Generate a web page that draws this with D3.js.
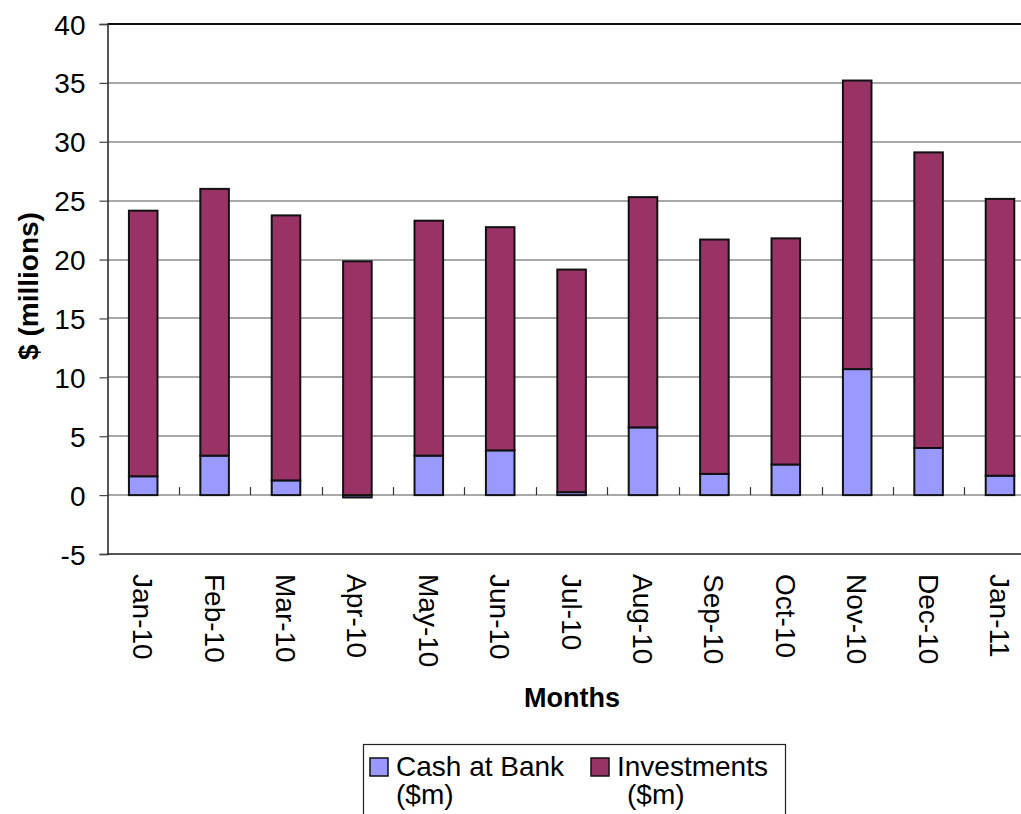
<!DOCTYPE html>
<html>
<head>
<meta charset="utf-8">
<script src="https://cdn.jsdelivr.net/npm/d3@7"></script>
<style>
  body { margin: 0; background: #fff; }
  svg { display: block; font-family: "Liberation Sans", Arial, sans-serif; }
</style>
</head>
<body>
<svg id="chart" width="1021" height="814"></svg>
<script>
const months = ["Jan-10", "Feb-10", "Mar-10", "Apr-10", "May-10", "Jun-10", "Jul-10",
  "Aug-10", "Sep-10", "Oct-10", "Nov-10", "Dec-10", "Jan-11"];
const cash = [1.6, 3.35, 1.25, -0.2, 3.35, 3.8, 0.25, 5.75, 1.8, 2.6, 10.7, 4.0, 1.65];
const investments = [22.55, 22.65, 22.5, 19.85, 19.95, 18.95, 18.9, 19.55, 19.9, 19.2, 24.5, 25.1, 23.5];
const yTicks = [40, 35, 30, 25, 20, 15, 10, 5, 0, -5];
const seriesNames = ["Cash at Bank ($m)", "Investments ($m)"];
const colors = ["#9999ff", "#993366"];

const margin = {left: 107.5, top: 24, bottom: 554};
const step = 71.4;
const right = margin.left + step * months.length;

const svg = d3.select("#chart");

let x = d3.scaleBand()
  .domain(months)
  .range([margin.left, right])
  .paddingInner(0.6)
  .paddingOuter(0.3);
let y = d3.scaleLinear()
  .domain([-5, 40])
  .range([margin.bottom, margin.top]);

// gridlines
svg.append("g")
  .selectAll("line")
  .data(yTicks)
  .enter().append("line")
  .attr("x1", margin.left).attr("x2", right)
  .attr("y1", d => Math.round(y(d))).attr("y2", d => Math.round(y(d)))
  .attr("stroke", d => d == 40 ? "#111" : "#555")
  .attr("stroke-width", d => d == 40 ? 2 : (d == -5 ? 2 : 1.2));

// y axis
let yAxis = svg.append("g")
  .attr("transform", "translate(" + margin.left + ",0)")
  .call(d3.axisLeft(y).tickValues(yTicks).tickSize(8).tickPadding(14).tickFormat(d => String(d)));
yAxis.select(".domain").attr("stroke", "#222").attr("stroke-width", 1.5);
yAxis.selectAll(".tick line").attr("stroke", "#444").attr("stroke-width", 1.2);
yAxis.selectAll("text").attr("font-size", 28).attr("fill", "#000")
  .attr("font-family", "Liberation Sans, Arial, sans-serif").attr("dy", "0.36em");

// category ticks on zero line
svg.append("g")
  .selectAll("line")
  .data(months.slice(1))
  .enter().append("line")
  .attr("x1", d => Math.round(x(d) - x.step() * 0.3) + 0.5)
  .attr("x2", d => Math.round(x(d) - x.step() * 0.3) + 0.5)
  .attr("y1", y(0)).attr("y2", y(0) - 8)
  .attr("stroke", "#333").attr("stroke-width", 1.2);

// stacked bars
const table = months.map((m, i) => ({month: m, cash: cash[i], inv: investments[i]}));
const stack = d3.stack().keys(["cash", "inv"]).offset(d3.stackOffsetDiverging);
const layers = stack(table);

svg.append("g")
  .selectAll("g")
  .data(layers)
  .enter().append("g")
  .attr("fill", (d, i) => colors[i])
  .selectAll("rect")
  .data(d => d)
  .enter().append("rect")
  .attr("x", d => x(d.data.month))
  .attr("width", x.bandwidth())
  .attr("y", d => y(Math.max(d[0], d[1])))
  .attr("height", d => Math.abs(y(d[0]) - y(d[1])))
  .attr("stroke", "#111")
  .attr("stroke-width", 2);

// x labels
svg.append("g")
  .selectAll("text")
  .data(months)
  .enter().append("text")
  .attr("transform", d => "translate(" + (x(d) + x.bandwidth() / 2) + ",574) rotate(90)")
  .attr("dy", "0.36em")
  .attr("font-size", 28)
  .text(d => d);

// axis titles
svg.append("text")
  .attr("x", 572).attr("y", 707)
  .attr("text-anchor", "middle")
  .attr("font-size", 27).attr("font-weight", "bold")
  .text("Months");

svg.append("text")
  .attr("transform", "translate(38,286) rotate(-90)")
  .attr("text-anchor", "middle")
  .attr("font-size", 28).attr("font-weight", "bold")
  .text("$ (millions)");

// legend
let legend = svg.append("g");
legend.append("rect")
  .attr("x", 363.5).attr("y", 744.5).attr("width", 422).attr("height", 100)
  .attr("fill", "none").attr("stroke", "#222").attr("stroke-width", 1.2);

const legendX = [370, 591];
const legendTextX = [396, 617];
const legendLine2X = [396, 627];
seriesNames.forEach((name, i) => {
  legend.append("rect")
    .attr("x", legendX[i]).attr("y", 758).attr("width", 18).attr("height", 18)
    .attr("fill", colors[i]).attr("stroke", "#111").attr("stroke-width", 1.5);
  let parts = name.split(" (");
  legend.append("text")
    .attr("x", legendTextX[i]).attr("y", 776)
    .attr("font-size", 28)
    .text(parts[0]);
  legend.append("text")
    .attr("x", legendLine2X[i]).attr("y", 804)
    .attr("font-size", 28)
    .text("(" + parts[1]);
});
</script>
</body>
</html>
